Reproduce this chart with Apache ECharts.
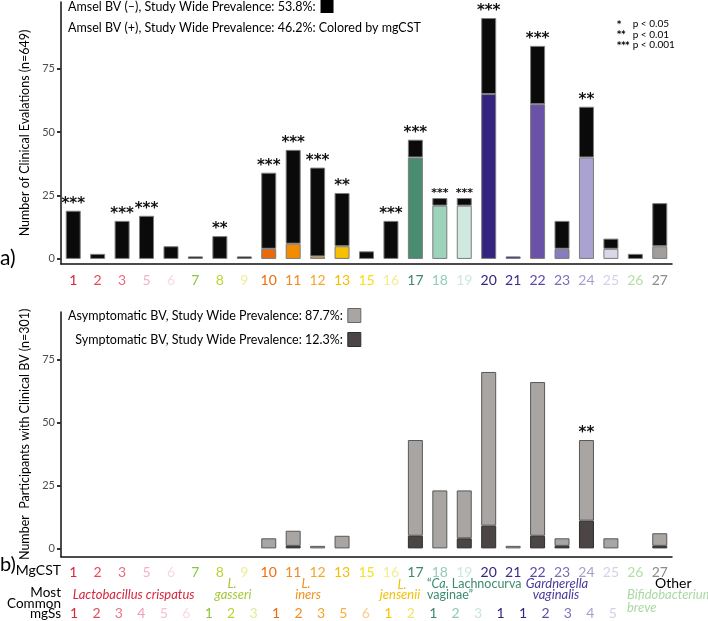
<!DOCTYPE html>
<html><head><meta charset="utf-8">
<script src="https://cdn.jsdelivr.net/npm/echarts@6/dist/echarts.min.js"></script>
<style>html,body{margin:0;padding:0;background:#fff}#c{width:708px;height:621px}</style>
</head><body><div id="c"></div>
<script>
// ---- data ----
const mgCST = ['1','2','3','5','6','7','8','9','10','11','12','13','15','16','17','18','19','20','21','22','23','24','25','26','27'];
const cstColors = ['#d7263d','#e8475a','#ec6a80','#f4b3c3','#f9d9e1','#8cc63f','#bcd531','#eeee9a','#ee6c0c','#f48a1c','#f7a52c','#f5bd00','#f4e01e','#f6ec90','#3e8a6e','#92ceb6','#cde9df','#33237e','#3a2a8c','#5e48a3','#7d6db8','#a69fce','#d4d1e9','#b5e0a5','#8c8c8c'];
const barColors = ['#d7263d','#e8475a','#ec6a80','#f4b3c3','#f9d9e1','#8cc63f','#bcd531','#eeee9a','#ea6a0a','#f28c00','#f5a623','#f4c000','#f4e01e','#f6ec90','#4a8c6f','#9dd3bb','#cfe9de','#352380','#352380','#6a52a8','#8a7ac0','#aaa2d0','#d8d6e8','#b5e0a5','#a19e9b'];
// Amsel BV (+) counts (coloured) and Amsel BV (-) counts (black)
const amselPos = [0,0,0,0,0,0,0,0,4,6,1,5,0,0,40,21,21,65,1,61,4,40,4,0,5];
const amselNeg = [19,2,15,17,5,1,9,1,30,37,35,21,3,15,7,3,3,30,0,23,11,20,4,2,17];
const sigTop = ['***','','***','***','','','**','','***','***','***','**','','***','***','***','***','***','','***','','**','','',''];
// Clinical BV participants
const symptomatic = [0,0,0,0,0,0,0,0,0,1,0,0,0,0,5,0,4,9,0,5,1,11,0,0,1];
const asymptomatic = [0,0,0,0,0,0,0,0,4,6,1,5,0,0,38,23,19,61,1,61,3,32,4,0,5];
const sigBottom = ['','','','','','','','','','','','','','','','','','','','','','**','','',''];
const yTicks = [0,25,50,75];
const mgSs = ['1','2','3','4','5','6','1','2','3','1','2','3','5','6','1','2','1','2','3','1','1','2','3','4','5'];
const mgSsColors = ['#d7263d','#e04a5c','#e8758a','#efa0b2','#f4c1cd','#f8dbe3','#8dc63f','#b8d432','#e5ea95','#ef6c0a','#f38b1a','#f5a32a','#f7ae3c','#f9cf8a','#f5c400','#f3e070','#3f8a6d','#8ccbb2','#c8e6da','#2f1f7a','#35248a','#5f4aa3','#7f6fbb','#a79fd0','#d3cfe8'];
const negName = 'Amsel BV (\u2013), Study Wide Prevalence: 53.8%:';
const posName = 'Amsel BV (+), Study Wide Prevalence: 46.2%: Colored by mgCST';
const asymName = 'Asymptomatic BV, Study Wide Prevalence: 87.7%:';
const symName = 'Symptomatic BV, Study Wide Prevalence: 12.3%:';

// ---- chart ----
const FONT = 'Lato';
const nz = v => (v === 0 ? null : v);
const chart = echarts.init(document.getElementById('c'));
const catAxis = (gi) => ({
  gridIndex: gi, type: 'category',
  data: mgCST.map((c, i) => ({ value: c, textStyle: { color: cstColors[i] } })),
  axisLine: { onZero: false, lineStyle: { color: '#111', width: 1.5 } },
  axisTick: { alignWithLabel: true, length: 4, lineStyle: { color: '#333', width: 1.5 } },
  axisLabel: { fontSize: 14, margin: 9, fontFamily: FONT }
});
const valAxis = (gi, min, max, name, gap) => ({
  gridIndex: gi, type: 'value', min: min, max: max,
  splitLine: { show: false },
  axisLine: { show: true, onZero: false, lineStyle: { color: '#111', width: 1.5 } },
  axisTick: { show: true, length: 4, customValues: yTicks, lineStyle: { color: '#333', width: 2 } },
  axisLabel: { customValues: yTicks, fontSize: 11, color: '#4d4d4d', margin: 6, fontFamily: FONT },
  name: name, nameLocation: 'middle', nameGap: gap,
  nameTextStyle: { fontSize: 12.5, color: '#000', fontFamily: FONT }
});
const smallStars = ['18', '19'];
const starData = (vals, sig) => vals.map((v, i) => ({
  value: nz(v),
  label: { formatter: sig[i], fontSize: smallStars.indexOf(mgCST[i]) >= 0 ? 11 : 15 }
}));
const starLabel = {
  show: true, position: 'top', distance: -1,
  fontFamily: 'DejaVu Sans', fontWeight: 'bold', fontSize: 15, color: '#111'
};
const txt = (text, x, y, opt) => ({
  type: 'text', silent: true,
  style: Object.assign({ text: text, x: x, y: y, fill: '#000', font: '13px ' + FONT,
    textAlign: 'left', align: 'left', textVerticalAlign: 'middle', verticalAlign: 'middle' }, opt || {})
});
const ital = (sz) => 'italic ' + sz + 'px ' + FONT;
const center = { textAlign: 'center', align: 'center' };
const right = { textAlign: 'right', align: 'right' };
const GF = 13;

const option = {
  animation: false,
  textStyle: { fontFamily: FONT },
  grid: [
    { left: 61, right: 36, top: 2, height: 262 },
    { left: 61, right: 36, top: 312, height: 244.7 },
    { left: 62.8, width: 561.25, top: 598, height: 2 }
  ],
  legend: [
    { left: 68, top: 0, padding: 0, align: 'right', icon: 'rect', itemWidth: 13, itemHeight: 13,
      data: [{ name: negName, itemStyle: { color: '#000', borderWidth: 0 } }],
      selectedMode: false, textStyle: { fontSize: 12.5, color: '#000', fontFamily: FONT } },
    { left: 68, top: 308, padding: 0, orient: 'vertical', align: 'right', icon: 'rect',
      data: [{ name: asymName, itemStyle: { color: '#a8a5a3', borderColor: '#666', borderWidth: 1 } },
             { name: symName, itemStyle: { color: '#4b4645', borderColor: '#2e2e2e', borderWidth: 1 } }],
      itemWidth: 13, itemHeight: 14, itemGap: 9, selectedMode: false,
      textStyle: { fontSize: 12.5, color: '#000', fontFamily: FONT } }
  ],
  xAxis: [
    catAxis(0), catAxis(1),
    { gridIndex: 2, type: 'category',
      data: mgSs.map((c, i) => ({ value: c, textStyle: { color: mgSsColors[i] } })),
      axisLine: { show: false }, axisTick: { show: false },
      axisLabel: { fontSize: 14, margin: 6, fontFamily: FONT, interval: 0 } }
  ],
  yAxis: [
    valAxis(0, -2, 101.3, 'Number of Clinical Evalations (n=649)', 24),
    valAxis(1, -3.3, 93.8, 'Number  Participants with Clinical BV (n=301)', 24),
    { gridIndex: 2, type: 'value', show: false }
  ],
  series: [
    { type: 'bar', name: posName, xAxisIndex: 0, yAxisIndex: 0, stack: 'amsel', barWidth: 15,
      data: amselPos.map((v, i) => ({ value: nz(v), itemStyle: { color: barColors[i] } })),
      itemStyle: { borderColor: '#7d7d7d', borderWidth: 1 } },
    { type: 'bar', name: negName, xAxisIndex: 0, yAxisIndex: 0, stack: 'amsel', barWidth: 15,
      data: starData(amselNeg, sigTop),
      itemStyle: { color: '#0a0a0a', borderColor: '#7d7d7d', borderWidth: 1 },
      label: starLabel },
    { type: 'bar', name: symName, xAxisIndex: 1, yAxisIndex: 1, stack: 'bv', barWidth: 15,
      data: symptomatic.map(nz),
      itemStyle: { color: '#4b4645', borderColor: '#2e2e2e', borderWidth: 1 } },
    { type: 'bar', name: asymName, xAxisIndex: 1, yAxisIndex: 1, stack: 'bv', barWidth: 15,
      data: starData(asymptomatic, sigBottom),
      itemStyle: { color: '#a8a5a3', borderColor: '#595959', borderWidth: 1 },
      label: starLabel }
  ],
  graphic: [
    txt(posName, 68, 28, { font: '12.5px ' + FONT }),
    txt('a)', 0, 258, { font: '21px ' + FONT }),
    txt('b)', 0, 565, { font: '20px ' + FONT }),
    txt('*', 617, 24.5, { font: 'bold 8px DejaVu Sans' }),
    txt('**', 617, 35, { font: 'bold 8px DejaVu Sans' }),
    txt('***', 617, 45.5, { font: 'bold 8px DejaVu Sans' }),
    txt('p < 0.05', 632.7, 24, { font: '10px ' + FONT }),
    txt('p < 0.01', 632.7, 34.3, { font: '10px ' + FONT }),
    txt('p < 0.001', 632.7, 45, { font: '10px ' + FONT }),
    txt('MgCST', 61, 570, Object.assign({ font: '14px ' + FONT }, right)),
    txt('Most', 61, 592.7, Object.assign({ font: '13.5px ' + FONT }, right)),
    txt('Common', 61, 603.3, Object.assign({ font: '13.5px ' + FONT }, right)),
    txt('mgSs', 61, 614, Object.assign({ font: '13.5px ' + FONT }, right)),
    txt('Lactobacillus crispatus', 72.7, 595, { font: ital(GF), fill: '#d7263d' }),
    txt('L.', 232, 584, Object.assign({ font: ital(GF), fill: '#a6c73a' }, center)),
    txt('gasseri', 233, 595, Object.assign({ font: ital(GF), fill: '#a6c73a' }, center)),
    txt('L.', 306, 584, Object.assign({ font: ital(GF), fill: '#f39221' }, center)),
    txt('iners', 308, 595, Object.assign({ font: ital(GF), fill: '#f39221' }, center)),
    txt('L.', 402, 585, Object.assign({ font: ital(GF), fill: '#f0c20a' }, center)),
    txt('jensenii', 400, 595, Object.assign({ font: ital(GF), fill: '#f0c20a' }, center)),
    txt('\u201c{i|Ca.} Lachnocurva', 427, 584, { font: '12.5px ' + FONT, fill: '#3d8b6e',
      rich: { i: { fontStyle: 'italic', fontSize: 12.5, fontFamily: FONT, fill: '#3d8b6e' } } }),
    txt('vaginae\u201d', 427, 595, { font: '12.5px ' + FONT, fill: '#3d8b6e' }),
    txt('Gardnerella', 557, 584, Object.assign({ font: ital(GF), fill: '#4a3a9a' }, center)),
    txt('vaginalis', 556, 595, Object.assign({ font: ital(GF), fill: '#4a3a9a' }, center)),
    txt('Other', 655, 583, { font: '14px ' + FONT, fill: '#000' }),
    txt('Bifidobacterium', 627, 595, { font: ital(GF), fill: '#a9d9a3' }),
    txt('breve', 627, 607.5, { font: ital(GF), fill: '#a9d9a3' })
  ]
};
chart.setOption(option);
</script>
</body></html>
